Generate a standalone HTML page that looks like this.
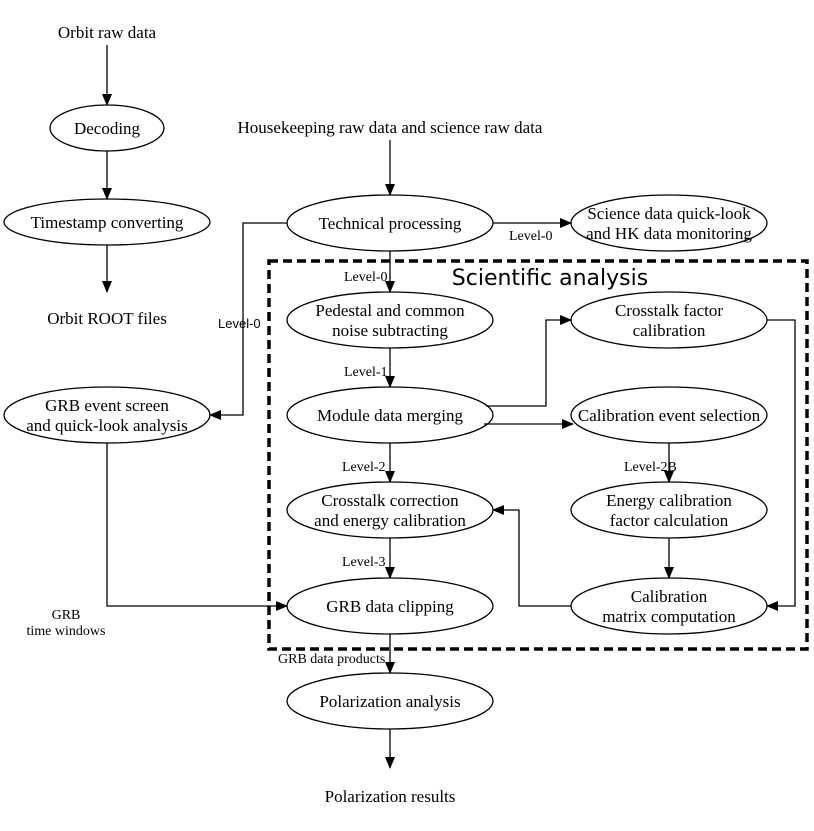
<!DOCTYPE html>
<html><head><style>body{margin:0;background:#fff}svg{display:block}</style></head><body>
<svg width="814" height="831" viewBox="0 0 814 831" xmlns="http://www.w3.org/2000/svg" font-family="Liberation Serif, serif" font-size="17">
<defs><marker id="a" markerWidth="12" markerHeight="10" refX="11" refY="5" orient="auto" markerUnits="userSpaceOnUse"><path d="M0,0 L12,5 L0,10z" fill="#000"/></marker></defs>
<g fill="none" stroke="#000" stroke-width="1.3">
<ellipse cx="107" cy="128" rx="57" ry="23"/>
<ellipse cx="107" cy="222" rx="103" ry="23"/>
<ellipse cx="390" cy="223" rx="103" ry="28"/>
<ellipse cx="669" cy="223" rx="98" ry="28"/>
<ellipse cx="390" cy="320" rx="103" ry="28"/>
<ellipse cx="669" cy="320" rx="98" ry="28"/>
<ellipse cx="107" cy="415" rx="103" ry="28"/>
<ellipse cx="390" cy="415" rx="103" ry="28"/>
<ellipse cx="669" cy="415" rx="98" ry="28"/>
<ellipse cx="390" cy="510" rx="103" ry="28"/>
<ellipse cx="669" cy="510" rx="98" ry="28"/>
<ellipse cx="390" cy="606" rx="103" ry="28"/>
<ellipse cx="669" cy="606" rx="98" ry="28"/>
<ellipse cx="390" cy="701" rx="103" ry="28"/>
<rect x="269" y="261" width="538" height="388" stroke-width="3.5" stroke-dasharray="9,5"/>
</g>
<g fill="none" stroke="#000" stroke-width="1.3" marker-end="url(#a)">
<path d="M107,45V105"/><path d="M107,151V199"/><path d="M107,245V292"/>
<path d="M390,140V195"/><path d="M390,251V292"/><path d="M390,348V387"/>
<path d="M390,443V482"/><path d="M390,538V578"/><path d="M390,634V673"/><path d="M390,729V768"/>
<path d="M493,223H571"/>
<path d="M287,223H243V415H210"/>
<path d="M486,406H546V320H571"/>
<path d="M484,424H573"/>
<path d="M767,320H795V606H767"/>
<path d="M669,443V482"/><path d="M669,538V578"/>
<path d="M571,606H519V510H493"/>
<path d="M107,443V606H287"/>
</g>
<g text-anchor="middle">
<text x="107" y="38">Orbit raw data</text>
<text x="107" y="134">Decoding</text>
<text x="107" y="228">Timestamp converting</text>
<text x="107" y="324">Orbit ROOT files</text>
<text x="390" y="133">Housekeeping raw data and science raw data</text>
<text x="390" y="229">Technical processing</text>
<text x="669" y="219">Science data quick-look</text>
<text x="669" y="239">and HK data monitoring</text>
<text x="390" y="316">Pedestal and common</text>
<text x="390" y="336">noise subtracting</text>
<text x="669" y="316">Crosstalk factor</text>
<text x="669" y="336">calibration</text>
<text x="107" y="411">GRB event screen</text>
<text x="107" y="431">and quick-look analysis</text>
<text x="390" y="421">Module data merging</text>
<text x="669" y="421">Calibration event selection</text>
<text x="390" y="506">Crosstalk correction</text>
<text x="390" y="526">and energy calibration</text>
<text x="669" y="506">Energy calibration</text>
<text x="669" y="526">factor calculation</text>
<text x="390" y="612">GRB data clipping</text>
<text x="669" y="602">Calibration</text>
<text x="669" y="622">matrix computation</text>
<text x="390" y="707">Polarization analysis</text>
<text x="390" y="802">Polarization results</text>
</g>
<g font-size="14">
<text x="509" y="240">Level-0</text>
<text x="344" y="281">Level-0</text>
<text x="344" y="376">Level-1</text>
<text x="342" y="471">Level-2</text>
<text x="342" y="566">Level-3</text>
<text x="624" y="471">Level-2B</text>
<text x="218" y="328" font-family="Liberation Sans, sans-serif" font-size="13">Level-0</text>
<text x="66" y="619" text-anchor="middle">GRB</text>
<text x="66" y="635" text-anchor="middle">time windows</text>
<text x="278" y="663">GRB data products</text>
</g>
<text x="550" y="285" font-family="DejaVu Sans, sans-serif" font-size="22" text-anchor="middle">Scientific analysis</text>
</svg>
</body></html>
